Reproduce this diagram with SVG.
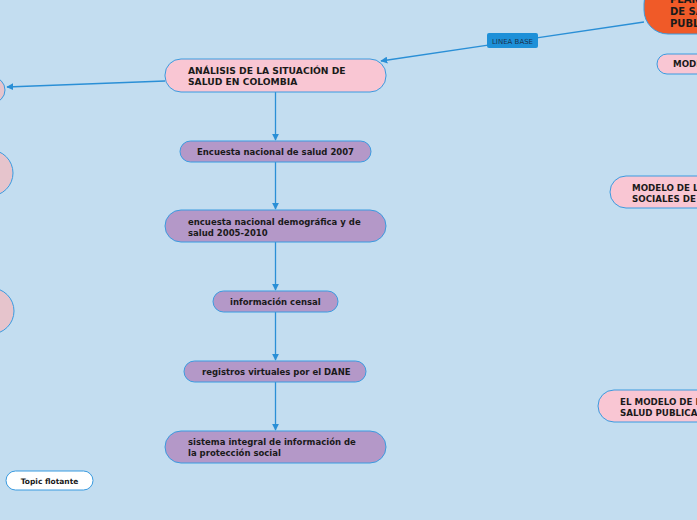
<svg xmlns="http://www.w3.org/2000/svg" width="697" height="520" viewBox="0 0 697 520">
<defs>
<style>
.t{font-family:"DejaVu Sans",Verdana,sans-serif;font-weight:bold;font-size:8.5px;fill:#1a1a1a}
.u{font-size:9.2px}
.m{font-size:8.7px}
.pink{fill:#f9c6d3;stroke:#3a9be0;stroke-width:1}
.purp{fill:#b498c8;stroke:#3a9be0;stroke-width:1}
.side{fill:#e6c4cc;stroke:#3a9be0;stroke-width:1}
.c{stroke:#2a8fd6;stroke-width:1.3;fill:none}
</style>
<marker id="ah" viewBox="0 0 10 10" refX="9" refY="5" markerWidth="7" markerHeight="7" orient="auto" markerUnits="userSpaceOnUse"><path d="M0,0 L10,5 L0,10 z" fill="#2a8fd6"/></marker>
</defs>
<rect width="697" height="520" fill="#c3ddf0"/>
<g id="connectors">
<line class="c" x1="644" y1="22" x2="381" y2="61" marker-end="url(#ah)"/>
<line class="c" x1="165" y1="81" x2="7" y2="87" marker-end="url(#ah)"/>
<line class="c" x1="275.5" y1="92" x2="275.5" y2="140" marker-end="url(#ah)"/>
<line class="c" x1="275.5" y1="162" x2="275.5" y2="209" marker-end="url(#ah)"/>
<line class="c" x1="275.5" y1="242" x2="275.5" y2="290" marker-end="url(#ah)"/>
<line class="c" x1="275.5" y1="312" x2="275.5" y2="360" marker-end="url(#ah)"/>
<line class="c" x1="275.5" y1="382" x2="275.5" y2="430" marker-end="url(#ah)"/>
<g id="label-linea">
<rect x="487" y="33" width="51" height="15" rx="2" fill="#1e90d8"/>
<text x="512.5" y="43.5" text-anchor="middle" style="font-family:'DejaVu Sans',sans-serif;font-size:7px;fill:#1a3350">LINEA BASE</text>
</g>
</g>
<g id="plan">
<rect x="644" y="-20" width="90" height="54" rx="24" fill="#f05a28" stroke="#3a9be0"/>
<text class="t" style="font-size:10px" x="670" y="3">PLAN</text>
<text class="t" style="font-size:10px" x="670" y="15">DE SA</text>
<text class="t" style="font-size:10px" x="670" y="27">PUBL</text>
</g>
<g id="mode">
<rect class="pink" x="657" y="54" width="60" height="20" rx="10"/>
<text class="t m" x="673" y="67">MODE</text>
</g>
<g id="main">
<rect class="pink" x="165" y="59" width="221" height="33" rx="16"/>
<text class="t u" x="188" y="74">ANÁLISIS DE LA SITUACIÓN DE</text>
<text class="t u" x="188" y="85">SALUD EN COLOMBIA</text>
</g>
<g id="left1"><rect class="side" x="-30" y="77" width="35" height="26" rx="13"/></g>
<g id="left2"><rect class="side" x="-40" y="150" width="53" height="46" rx="23"/></g>
<g id="left3"><rect class="side" x="-40" y="288" width="54" height="46" rx="23"/></g>
<g id="n1">
<rect class="purp" x="180" y="141" width="191" height="21" rx="10.5"/>
<text class="t" x="197" y="155">Encuesta nacional de salud 2007</text>
</g>
<g id="n2">
<rect class="purp" x="165" y="210" width="221" height="32" rx="16"/>
<text class="t" x="188" y="225">encuesta nacional demográfica y de</text>
<text class="t" x="188" y="236">salud 2005-2010</text>
</g>
<g id="n3">
<rect class="purp" x="213" y="291" width="125" height="21" rx="10.5"/>
<text class="t" x="230" y="305">información censal</text>
</g>
<g id="n4">
<rect class="purp" x="184" y="361" width="182" height="21" rx="10.5"/>
<text class="t" x="202" y="375">registros virtuales por el DANE</text>
</g>
<g id="n5">
<rect class="purp" x="165" y="431" width="221" height="32" rx="16"/>
<text class="t" x="188" y="445">sistema integral de información de</text>
<text class="t" x="188" y="456">la protección social</text>
</g>
<g id="modelo1">
<rect class="pink" x="610" y="176" width="120" height="32" rx="16"/>
<text class="t m" x="632" y="191">MODELO DE L</text>
<text class="t m" x="632" y="202">SOCIALES DE</text>
</g>
<g id="modelo2">
<rect class="pink" x="598" y="390" width="130" height="32" rx="16"/>
<text class="t m" x="620" y="405">EL MODELO DE F</text>
<text class="t m" x="620" y="416">SALUD PUBLICA</text>
</g>
<g id="topic">
<rect x="6" y="471" width="87" height="19" rx="9.5" fill="#ffffff" stroke="#3a9be0"/>
<text class="t" style="font-size:7.5px" x="49.5" y="483.5" text-anchor="middle">Topic flotante</text>
</g>
</svg>
